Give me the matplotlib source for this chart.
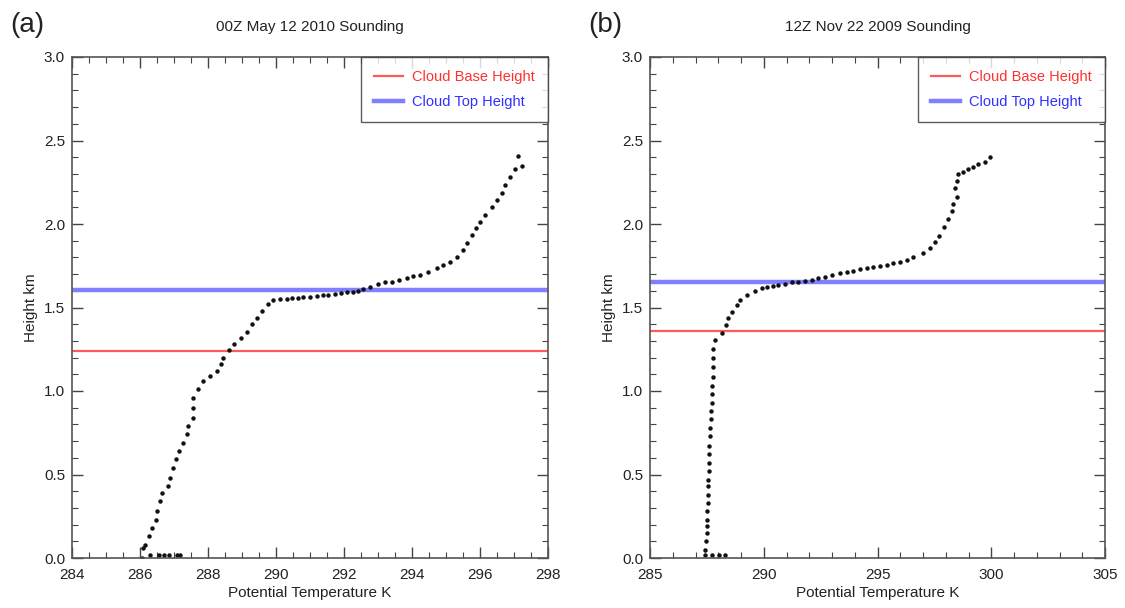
import matplotlib
matplotlib.use('Agg')
import matplotlib.pyplot as plt
from matplotlib.ticker import MultipleLocator

plt.rcParams['font.family'] = ['Liberation Sans Narrow', 'Liberation Sans', 'DejaVu Sans']

# panel (a) sounding, 00Z May 12 2010
a_theta = [286.05, 286.10, 286.30, 286.55, 286.70, 286.85, 287.08, 287.18,
           286.15, 286.27, 286.34, 286.47, 286.49, 286.59, 286.66, 286.81, 286.88,
           286.98, 287.06, 287.16, 287.27, 287.39, 287.42, 287.55, 287.57, 287.57,
           287.72, 287.86, 288.06, 288.25, 288.37, 288.45, 288.63, 288.77, 288.96,
           289.14, 289.28, 289.45, 289.58, 289.76, 289.92,
           290.12, 290.31, 290.46, 290.64, 290.80, 291.00, 291.20, 291.37, 291.54,
           291.74, 291.91, 292.08, 292.26, 292.42, 292.57, 292.76, 293.00, 293.21,
           293.40, 293.63, 293.84, 294.04, 294.24, 294.48, 294.73, 294.92, 295.12,
           295.31, 295.49, 295.61, 295.76, 295.88, 296.00, 296.15, 296.34, 296.49,
           296.64, 296.74, 296.88, 297.03, 297.23, 297.13]
a_height = [0.00, 0.06, 0.02, 0.02, 0.02, 0.02, 0.015, 0.015,
            0.08, 0.13, 0.18, 0.23, 0.28, 0.34, 0.39, 0.43, 0.48,
            0.54, 0.59, 0.64, 0.69, 0.74, 0.79, 0.84, 0.90, 0.96,
            1.01, 1.06, 1.09, 1.12, 1.16, 1.20, 1.245, 1.28, 1.315,
            1.355, 1.40, 1.44, 1.48, 1.52, 1.545,
            1.549, 1.55, 1.555, 1.559, 1.56, 1.565, 1.57, 1.573, 1.577,
            1.58, 1.585, 1.59, 1.595, 1.60, 1.61, 1.62, 1.64, 1.65,
            1.655, 1.665, 1.675, 1.69, 1.695, 1.71, 1.735, 1.755, 1.77,
            1.80, 1.845, 1.885, 1.934, 1.974, 2.01, 2.054, 2.104, 2.144,
            2.184, 2.233, 2.28, 2.33, 2.35, 2.41]
a_base = 1.24
a_top = 1.605

# panel (b) sounding, 12Z Nov 22 2009
b_theta = [287.42, 287.71, 288.05, 288.30,
           287.42, 287.46, 287.49, 287.52, 287.52, 287.52, 287.54, 287.56, 287.56,
           287.56, 287.58, 287.59, 287.61, 287.61, 287.64, 287.65, 287.68, 287.69,
           287.71, 287.73, 287.74, 287.76, 287.78, 287.78, 287.78, 287.86, 288.15,
           288.34, 288.44, 288.59, 288.81, 288.96, 289.25, 289.60,
           289.91, 290.13, 290.39, 290.64, 290.93, 291.23, 291.52, 291.81, 292.11,
           292.40, 292.69, 292.99, 293.35, 293.65, 293.94, 294.23, 294.53, 294.82,
           295.11, 295.40, 295.70, 295.99, 296.28, 296.58,
           297.01, 297.31, 297.53, 297.72, 297.92, 298.11, 298.26, 298.33, 298.48,
           298.41, 298.51, 298.55, 298.77, 298.99, 299.21, 299.43, 299.73, 299.96]
b_height = [0.02, 0.02, 0.02, 0.015,
            0.05, 0.10, 0.15, 0.19, 0.23, 0.28, 0.33, 0.38, 0.43,
            0.47, 0.52, 0.57, 0.62, 0.67, 0.73, 0.78, 0.83, 0.88,
            0.93, 0.98, 1.03, 1.085, 1.145, 1.196, 1.25, 1.305, 1.345,
            1.395, 1.435, 1.475, 1.515, 1.545, 1.575, 1.60,
            1.615, 1.62, 1.63, 1.635, 1.64, 1.65, 1.655, 1.66, 1.665,
            1.675, 1.685, 1.695, 1.705, 1.713, 1.72, 1.73, 1.737, 1.744,
            1.75, 1.755, 1.765, 1.774, 1.784, 1.80,
            1.825, 1.855, 1.89, 1.93, 1.98, 2.03, 2.08, 2.12, 2.16,
            2.214, 2.26, 2.30, 2.31, 2.33, 2.34, 2.36, 2.37, 2.40]
b_base = 1.36
b_top = 1.65

panels = [
    dict(theta=a_theta, height=a_height, base=a_base, top=a_top,
         title='00Z May 12 2010 Sounding', tag='(a)', xlim=(284, 298), xmaj=2, xmin=0.5,
         pos=[72/1125, 50/608, 476/1125, 501/608]),
    dict(theta=b_theta, height=b_height, base=b_base, top=b_top,
         title='12Z Nov 22 2009 Sounding', tag='(b)', xlim=(285, 305), xmaj=5, xmin=1,
         pos=[650/1125, 50/608, 455/1125, 501/608]),
]

fig = plt.figure(figsize=(11.25, 6.08), dpi=100)

for p in panels:
    ax = fig.add_axes(p['pos'])
    ax.axhline(p['base'], color='#ff5a5a', lw=1.6, label='Cloud Base Height')
    ax.axhline(p['top'], color='#8080ff', lw=3.2, label='Cloud Top Height')
    ax.plot(p['theta'], p['height'], ls='none', marker='o', ms=2.2, color='#111111')
    ax.set_xlim(*p['xlim'])
    ax.set_ylim(0, 3.0)
    ax.xaxis.set_major_locator(MultipleLocator(p['xmaj']))
    ax.xaxis.set_minor_locator(MultipleLocator(p['xmin']))
    ax.yaxis.set_major_locator(MultipleLocator(0.5))
    ax.yaxis.set_minor_locator(MultipleLocator(0.1))
    ax.yaxis.set_major_formatter(plt.FormatStrFormatter('%.1f'))
    ax.tick_params(which='both', direction='in', top=True, right=True,
                   colors='#444444', labelcolor='#222222', labelsize=11)
    ax.tick_params(axis='x', which='major', pad=7)
    ax.tick_params(axis='y', which='major', pad=5)
    ax.tick_params(which='major', length=8, width=1)
    ax.tick_params(which='minor', length=4, width=0.8)
    for s in ax.spines.values():
        s.set_color('#555555')
        s.set_linewidth(1.2)
    ax.set_xlabel('Potential Temperature K', fontsize=11, color='#222222', labelpad=3)
    ax.set_ylabel('Height km', fontsize=11, color='#222222', labelpad=4)
    ax.set_title(p['title'], fontsize=11, color='#222222', pad=19)
    leg = ax.legend(loc='upper right', borderaxespad=0, fancybox=False,
                    fontsize=10.5, handlelength=2.0, borderpad=0.9, labelspacing=0.75,
                    handletextpad=0.6)
    leg.get_frame().set_edgecolor('#333333')
    leg.get_frame().set_linewidth(1.0)
    for txt, c in zip(leg.get_texts(), ['#ff3030', '#3030ff']):
        txt.set_color(c)
    fig.text(p['pos'][0] - 62/1125, 1 - 25/608, p['tag'], fontsize=20,
             color='#222222', ha='left', va='center')

fig.savefig('out.png', dpi=100)
